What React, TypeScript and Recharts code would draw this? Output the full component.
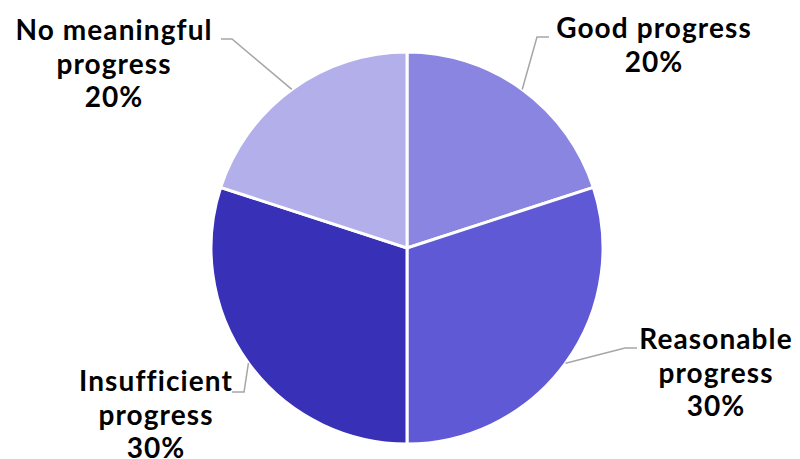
import { PieChart, Pie, Cell } from "recharts";

const categories = ["Good progress", "Reasonable progress", "Insufficient progress", "No meaningful progress"];
const shares = [20, 30, 30, 20];
const colors = ["#8985E0", "#5F59D6", "#3830B6", "#B2AFEA"];
// label text lines, as wrapped in the original
const labelLines = [
  ["Good progress"],
  ["Reasonable", "progress"],
  ["Insufficient", "progress"],
  ["No meaningful", "progress"],
];

const data = categories.map((name, i) => ({ name, value: shares[i] }));

// leader elbow + text placement, relative to the pie centre
const layout = [
  { ex: 130, ey: -211, hx: 142, tx: 247, ty: -210 },
  { ex: 218, ey: 100, hx: 230, tx: 309, ty: 101 },
  { ex: -163, ey: 144, hx: -175, tx: -251, ty: 143 },
  { ex: -175, ey: -209, hx: -186, tx: -293, ty: -208 },
];

const RAD = Math.PI / 180;

function renderLabel(props: any) {
  const { cx, cy, midAngle, outerRadius, index, value } = props;
  const l = layout[index];
  const sx = cx + outerRadius * Math.cos(-midAngle * RAD);
  const sy = cy + outerRadius * Math.sin(-midAngle * RAD);
  const lines = [...labelLines[index], `${value}%`];
  return (
    <g>
      <polyline
        points={`${sx},${sy} ${cx + l.ex},${cy + l.ey} ${cx + l.hx},${cy + l.ey}`}
        fill="none"
        stroke="#A6A6A6"
        strokeWidth={1.5}
      />
      <text
        x={cx + l.tx}
        y={cy + l.ty}
        textAnchor="middle"
        fontFamily="Lato, 'Open Sans', sans-serif"
        fontWeight={700}
        fontSize={28}
        letterSpacing={1.1}
        fill="#000"
      >
        {lines.map((t, i) => (
          <tspan key={i} x={cx + l.tx} dy={i === 0 ? 0 : 33.5}>
            {t}
          </tspan>
        ))}
      </text>
    </g>
  );
}

export default function App() {
  return (
    <div style={{ width: 792, height: 451 }}>
      <PieChart width={792} height={451} style={{ overflow: "visible" }}>
        <Pie
          data={data}
          dataKey="value"
          nameKey="name"
          cx={394}
          cy={235}
          outerRadius={196}
          startAngle={90}
          endAngle={-270}
          stroke="#fff"
          strokeWidth={3}
          label={renderLabel}
          labelLine={false}
          isAnimationActive={false}
        >
          {data.map((d, i) => (
            <Cell key={d.name} fill={colors[i]} />
          ))}
        </Pie>
      </PieChart>
    </div>
  );
}
